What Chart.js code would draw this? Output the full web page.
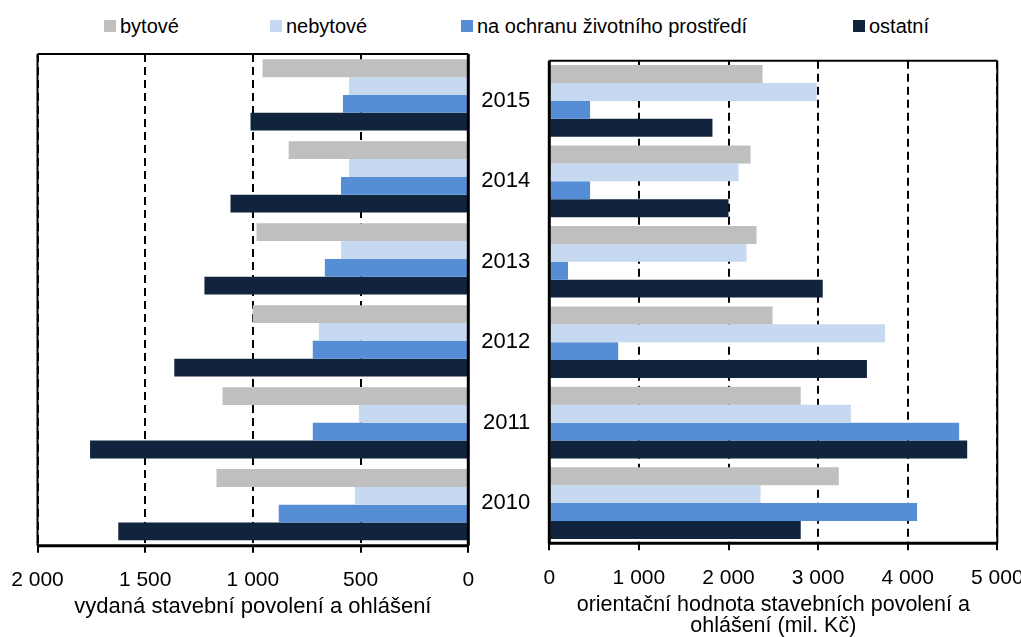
<!DOCTYPE html>
<html>
<head>
<meta charset="utf-8">
<script src="https://cdn.jsdelivr.net/npm/chart.js@4.4.1/dist/chart.umd.min.js"></script>
<style>
html,body{margin:0;padding:0;background:#fff;}
#wrap{position:relative;width:1021px;height:637px;overflow:hidden;font-family:"Liberation Sans",Arial,sans-serif;}
#left{position:absolute;left:0;top:0;}
#right{position:absolute;left:470px;top:0;}
#legend{position:absolute;left:0;top:14px;width:1021px;height:24px;font-size:20px;line-height:24px;color:#000;white-space:nowrap;}
.item{position:absolute;top:0;display:flex;align-items:center;}
.sw{width:12px;height:12px;margin-right:4px;}
</style>
</head>
<body>
<div id="wrap">
  <div id="legend"></div>
  <canvas id="left" width="480" height="637"></canvas>
  <canvas id="right" width="551" height="637"></canvas>
</div>
<script>
const years = ['2015','2014','2013','2012','2011','2010'];
const seriesNames = ['bytové','nebytové','na ochranu životního prostředí','ostatní'];
const seriesColors = ['#BFBFBF','#C6D9F1','#558ED5','#10243E'];

// left panel: issued building permits and notifications (count)
const countBytove   = [955, 834, 983, 1001, 1141, 1169];
const countNebytove = [554, 554, 591, 694, 508, 526];
const countOchrana  = [582, 591, 666, 722, 722, 880];
const countOstatni  = [1011, 1104, 1225, 1365, 1756, 1625];

// right panel: indicative value (mil. Kč)
const valueBytove   = [2380, 2246, 2313, 2492, 2806, 3231];
const valueNebytove = [2985, 2112, 2201, 3746, 3366, 2358];
const valueOchrana  = [455, 455, 209, 769, 4574, 4104];
const valueOstatni  = [1821, 2000, 3052, 3545, 4664, 2806];

const countTicks = ['0','500','1 000','1 500','2 000'];
const valueTicks = ['0','1 000','2 000','3 000','4 000','5 000'];
const leftTitle = 'vydaná stavební povolení a ohlášení';
const rightTitle = ['orientační hodnota stavebních povolení a','ohlášení (mil. Kč)'];

const FAMILY = "'Liberation Sans', Arial, sans-serif";
Chart.defaults.font.family = FAMILY;
Chart.defaults.color = '#000';

// legend (HTML)
const legendLeft = [104, 270, 461, 853];
const legendEl = document.getElementById('legend');
seriesNames.forEach((n,i)=>{
  const it = document.createElement('div'); it.className='item'; it.style.left = legendLeft[i]+'px';
  const sw = document.createElement('span'); sw.className='sw'; sw.style.background=seriesColors[i];
  const tx = document.createElement('span'); tx.textContent = n;
  it.appendChild(sw); it.appendChild(tx); legendEl.appendChild(it);
});

function makeFrame(thickSides){
  return {
    id:'frame',
    afterDatasetsDraw(chart){
      const {ctx, chartArea:{left,right,top,bottom}} = chart;
      ctx.save();
      ctx.strokeStyle = '#000';
      ctx.setLineDash([]);
      const sides = {
        top:[left,top,right,top], bottom:[left,bottom,right,bottom],
        left:[left,top,left,bottom], right:[right,top,right,bottom]
      };
      for (const k of Object.keys(sides)){
        const s = sides[k];
        ctx.lineWidth = thickSides.includes(k) ? 3 : 2;
        ctx.beginPath(); ctx.moveTo(s[0],s[1]); ctx.lineTo(s[2],s[3]); ctx.stroke();
      }
      ctx.restore();
    }
  };
}

function datasets(arrs){
  return arrs.map((d,i)=>({
    label: seriesNames[i], data: d, backgroundColor: seriesColors[i],
    borderWidth: 0, barPercentage: 1
  }));
}

const gridOpts = {color:'#000', lineWidth:2, drawTicks:true, tickLength:7, tickColor:'#000', tickWidth:2};
const tickFont = {size:21, family:FAMILY};

new Chart(document.getElementById('left'), {
  type:'bar',
  data:{labels:years, datasets:datasets([countBytove,countNebytove,countOchrana,countOstatni]).map(d=>({...d, categoryPercentage:0.87}))},
  options:{
    indexAxis:'y', responsive:false, animation:false,
    layout:{padding:{left:37.5, top:54, right:11.7, bottom:0}},
    plugins:{legend:{display:false}, tooltip:{enabled:false}},
    scales:{
      x:{type:'linear', reverse:true, min:0, max:2000,
        ticks:{stepSize:500, color:'#000', font:tickFont, padding:15, maxRotation:0, autoSkip:false,
          callback:(v)=>countTicks[Math.round(v/500)]},
        grid:gridOpts,
        border:{display:false, dash:[8,5]},
        title:{display:true, text:leftTitle, color:'#000', font:{size:22, family:FAMILY, lineHeight:1}, padding:{top:0,bottom:19}},
        afterFit(s){ s.height = 91.3; s.paddingLeft = 0; s.paddingRight = 0; }
      },
      y:{display:false, position:'right'}
    }
  },
  plugins:[makeFrame(['right','bottom'])]
});

new Chart(document.getElementById('right'), {
  type:'bar',
  data:{labels:years, datasets:datasets([valueBytove,valueNebytove,valueOchrana,valueOstatni]).map(d=>({...d, categoryPercentage:0.89}))},
  options:{
    indexAxis:'y', responsive:false, animation:false,
    layout:{padding:{left:0, top:60.7, right:23.7, bottom:0}},
    plugins:{legend:{display:false}, tooltip:{enabled:false}},
    scales:{
      x:{type:'linear', min:0, max:5000,
        ticks:{stepSize:1000, color:'#000', font:tickFont, padding:15, maxRotation:0, autoSkip:false,
          callback:(v)=>valueTicks[Math.round(v/1000)]},
        grid:gridOpts,
        border:{display:false, dash:[8,5]},
        title:{display:true, text:rightTitle, color:'#000', font:{size:21.5, family:FAMILY, lineHeight:1}, padding:{top:0,bottom:0}},
        afterFit(s){ s.height = 93.7; s.paddingLeft = 0; s.paddingRight = 0; }
      },
      y:{position:'left',
        ticks:{color:'#000', font:{size:22, family:FAMILY}, padding:19, crossAlign:'near'},
        grid:{display:false, drawTicks:false},
        border:{display:false},
        afterFit(s){ s.width = 79.3; }
      }
    }
  },
  plugins:[makeFrame(['left','bottom'])]
});
</script>
</body>
</html>
